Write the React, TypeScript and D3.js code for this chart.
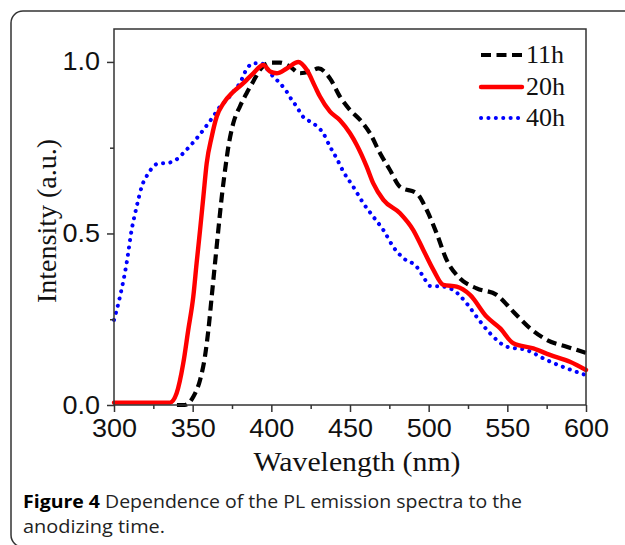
import { useEffect, useRef } from "react";
import * as d3 from "d3";

// PL spectra (wavelength in nm, normalized intensity)
const wl11 = [340, 345, 350.4, 354.7, 357.8, 360, 362.1, 364.2, 366.3, 368.5, 370.6, 372.7, 375.8, 380, 384.3, 388.5, 392.8, 399.2, 405.5, 411.9, 418.2, 424.6, 429.9, 437.3, 443.6, 450, 456.4, 462.7, 469.1, 475.4, 481.8, 492.4, 498.7, 505.1, 511.4, 519.9, 530.5, 543.2, 553.8, 564.4, 575, 587.7, 600];
const int11 = [0, 0, 0.024, 0.073, 0.141, 0.219, 0.316, 0.413, 0.51, 0.607, 0.685, 0.753, 0.821, 0.87, 0.909, 0.943, 0.977, 0.998, 0.998, 0.986, 0.967, 0.972, 0.981, 0.952, 0.899, 0.86, 0.831, 0.792, 0.734, 0.685, 0.636, 0.617, 0.569, 0.5, 0.423, 0.369, 0.34, 0.321, 0.272, 0.224, 0.19, 0.17, 0.152];

const wl20 = [300, 335.6, 339.8, 344, 347.2, 350.4, 352.5, 354.7, 356.8, 358.9, 362.1, 365.3, 369.5, 375.8, 382.2, 388.5, 394.9, 399.2, 403.4, 409.8, 417.2, 422.5, 427.8, 430.9, 437.3, 443.6, 450, 454.3, 460.6, 464.8, 471.2, 481.8, 490.2, 496.6, 503, 509.3, 517.8, 526.3, 536.9, 545.3, 553.8, 566.5, 577.1, 589.8, 600];
const int20 = [0.007, 0.007, 0.034, 0.121, 0.219, 0.316, 0.413, 0.51, 0.607, 0.704, 0.782, 0.841, 0.879, 0.913, 0.938, 0.967, 0.991, 0.972, 0.967, 0.981, 1.0, 0.977, 0.928, 0.899, 0.855, 0.83, 0.792, 0.758, 0.695, 0.646, 0.598, 0.559, 0.51, 0.452, 0.394, 0.35, 0.345, 0.321, 0.257, 0.224, 0.18, 0.165, 0.146, 0.126, 0.102];

const wl40 = [300, 303.8, 308, 311.2, 314.4, 317.6, 321.8, 328.2, 334.5, 339.8, 344, 348.3, 352.5, 356.8, 363.1, 367.4, 371.6, 375.8, 380, 384.3, 388.5, 393.9, 397, 401.3, 405.5, 409.8, 413, 416.1, 419.3, 424.6, 429.9, 433, 437.3, 441.5, 445.8, 452.1, 458.5, 464.8, 471.2, 477.5, 483.9, 492.4, 496.6, 500.8, 509.3, 515.7, 524.2, 530.5, 539, 549.6, 562.3, 575, 587.7, 600];
const int40 = [0.248, 0.316, 0.413, 0.51, 0.578, 0.636, 0.675, 0.704, 0.706, 0.716, 0.734, 0.755, 0.777, 0.802, 0.841, 0.87, 0.889, 0.913, 0.938, 0.979, 0.996, 0.996, 0.981, 0.957, 0.938, 0.913, 0.889, 0.87, 0.845, 0.826, 0.809, 0.792, 0.753, 0.719, 0.68, 0.636, 0.588, 0.549, 0.51, 0.461, 0.428, 0.403, 0.374, 0.347, 0.345, 0.335, 0.296, 0.257, 0.209, 0.17, 0.16, 0.131, 0.107, 0.087];

const seriesNames = ["11h", "20h", "40h"];
const xTicks = [300, 350, 400, 450, 500, 550, 600];
const xMinor = [325, 375, 425, 475, 525, 575];
const yTicks = [0, 0.5, 1.0];
const yMinor = [0.25, 0.75];

export default function App() {
  const svgRef = useRef<SVGSVGElement>(null);

  useEffect(() => {
    const svg = d3.select(svgRef.current);
    svg.selectAll("*").remove();

    const left = 114, right = 586, top = 29, bottom = 405;
    const stretch = 1.08; // source figure is a little wider than tall
    const x = d3.scaleLinear().domain([300, 600]).range([left, right]);
    const y = d3.scaleLinear().domain([0, 1.096]).range([bottom, top]);

    // outer figure box
    svg.append("rect")
      .attr("x", 11).attr("y", 11)
      .attr("width", 640).attr("height", 536)
      .attr("rx", 12)
      .attr("fill", "none")
      .attr("stroke", "#333")
      .attr("stroke-width", 1.5);

    // series
    const styles = [
      { color: "#000", dash: "10 5.5", cap: "butt", w: 4.2 },
      { color: "#ff0000", dash: null, cap: "round", w: 4.4 },
      { color: "#0000ff", dash: "0.1 7.3", cap: "round", w: 4 },
    ];
    const data = [
      wl11.map((w, i) => [w, int11[i]]),
      wl20.map((w, i) => [w, int20[i]]),
      wl40.map((w, i) => [w, int40[i]]),
    ];
    const line = d3.line<number[]>()
      .x(d => x(d[0]))
      .y(d => y(d[1]))
      .curve(d3.curveMonotoneX);

    [2, 0, 1].forEach(k => {
      svg.append("path")
        .attr("d", line(data[k]))
        .attr("fill", "none")
        .attr("stroke", styles[k].color)
        .attr("stroke-width", styles[k].w)
        .attr("stroke-linecap", styles[k].cap)
        .attr("stroke-linejoin", "round")
        .attr("stroke-dasharray", styles[k].dash);
    });

    // frame
    svg.append("rect")
      .attr("x", left).attr("y", top)
      .attr("width", right - left).attr("height", bottom - top)
      .attr("fill", "none")
      .attr("stroke", "#333")
      .attr("stroke-width", 1.5);

    const tickFont = "'Liberation Sans', Arial, sans-serif";

    // x axis
    const gx = svg.append("g").attr("transform", `translate(0,${bottom})`);
    gx.call(d3.axisBottom(x).tickValues(xTicks).tickSize(7).tickPadding(7).tickFormat(d3.format("d")));
    gx.append("g").call(d3.axisBottom(x).tickValues(xMinor).tickSize(4).tickFormat(() => ""));
    gx.selectAll(".domain").remove();
    gx.selectAll("line").attr("stroke", "#333").attr("stroke-width", 1.5);
    gx.selectAll("text")
      .attr("font-family", tickFont)
      .attr("font-size", 25)
      .attr("fill", "#111")
      .attr("transform", `scale(${stretch},1)`);

    // y axis
    const gy = svg.append("g").attr("transform", `translate(${left},0)`);
    gy.call(d3.axisLeft(y).tickValues(yTicks).tickSize(7).tickPadding(7).tickFormat(d3.format(".1f")));
    gy.append("g").call(d3.axisLeft(y).tickValues(yMinor).tickSize(4).tickFormat(() => ""));
    gy.selectAll(".domain").remove();
    gy.selectAll("line").attr("stroke", "#333").attr("stroke-width", 1.5);
    gy.selectAll("text")
      .attr("font-family", tickFont)
      .attr("font-size", 25)
      .attr("fill", "#111")
      .attr("x", -14 / stretch)
      .attr("transform", `scale(${stretch},1)`);

    const serif = "'Liberation Serif', 'Times New Roman', serif";

    svg.append("text")
      .attr("x", 357).attr("y", 471)
      .attr("text-anchor", "middle")
      .attr("font-family", serif)
      .attr("font-size", 27)
      .attr("textLength", 207)
      .attr("lengthAdjust", "spacingAndGlyphs")
      .attr("fill", "#111")
      .text("Wavelength (nm)");

    svg.append("text")
      .attr("transform", `translate(56,221) rotate(-90)`)
      .attr("text-anchor", "middle")
      .attr("font-family", serif)
      .attr("font-size", 28)
      .attr("fill", "#111")
      .text("Intensity (a.u.)");

    // legend
    const legY = [55, 87, 118];
    seriesNames.forEach((name, k) => {
      svg.append("line")
        .attr("x1", 481).attr("x2", 522)
        .attr("y1", legY[k]).attr("y2", legY[k])
        .attr("stroke", styles[k].color)
        .attr("stroke-width", styles[k].w)
        .attr("stroke-linecap", styles[k].cap)
        .attr("stroke-dasharray", styles[k].dash);
      svg.append("text")
        .attr("x", 526).attr("y", legY[k] + 8)
        .attr("font-family", serif)
        .attr("font-size", 26)
        .attr("fill", "#111")
        .text(name);
    });

    // caption
    const capFont = "'Open Sans', 'Noto Sans', sans-serif";
    const cap = svg.append("text")
      .attr("x", 23).attr("y", 508)
      .attr("font-family", capFont)
      .attr("font-size", 17.5)
      .attr("fill", "#222")
      .attr("textLength", 499)
      .attr("lengthAdjust", "spacingAndGlyphs");
    cap.append("tspan").attr("font-weight", "bold").attr("fill", "#000").text("Figure 4");
    cap.append("tspan").text(" Dependence of the PL emission spectra to the");

    svg.append("text")
      .attr("x", 23).attr("y", 533)
      .attr("font-family", capFont)
      .attr("font-size", 17.5)
      .attr("fill", "#222")
      .attr("textLength", 142)
      .attr("lengthAdjust", "spacingAndGlyphs")
      .text("anodizing time.");
  }, []);

  return (
    <svg
      ref={svgRef}
      width={625}
      height={545}
      style={{ position: "absolute", left: 0, top: 0, background: "#fff" }}
    />
  );
}
